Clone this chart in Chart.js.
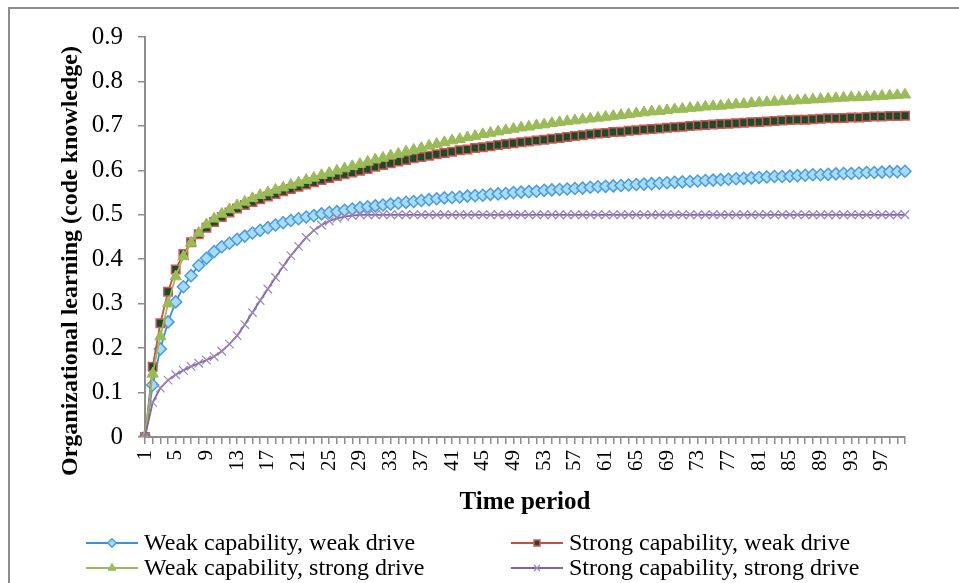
<!DOCTYPE html>
<html>
<head>
<meta charset="utf-8">
<script src="https://cdn.jsdelivr.net/npm/chart.js"></script>
<style>
  html, body { margin: 0; padding: 0; background: #fff; overflow: hidden; }
  #wrap { position: relative; width: 959px; height: 583px; overflow: hidden; }
  #frame { position: absolute; left: 8px; top: 7px; width: 1000px; height: 700px; border: 2px solid #8d8d8d; }
  #chart { position: absolute; left: 0; top: 0; }
</style>
</head>
<body>
<div id="wrap">
  <div id="frame"></div>
  <canvas id="chart" width="959" height="583"></canvas>
</div>
<script>
// time periods 1..100 (category axis)
const periods = Array.from({ length: 100 }, (_, i) => String(i + 1))
const shownPeriods = ['1', '5', '9', '13', '17', '21', '25', '29', '33', '37', '41', '45', '49',
  '53', '57', '61', '65', '69', '73', '77', '81', '85', '89', '93', '97']
const yTicks = [0, 0.1, 0.2, 0.3, 0.4, 0.5, 0.6, 0.7, 0.8, 0.9]

const weakCapWeakDrive = [
  0, 0.117, 0.198, 0.259, 0.304, 0.338, 0.363, 0.386, 0.402, 0.417,
  0.428, 0.436, 0.445, 0.452, 0.459, 0.465, 0.471, 0.477, 0.482, 0.487,
  0.491, 0.495, 0.498, 0.502, 0.505, 0.507, 0.51, 0.513, 0.516, 0.518,
  0.52, 0.522, 0.524, 0.526, 0.528, 0.53, 0.532, 0.534, 0.536, 0.538,
  0.539, 0.54, 0.542, 0.543, 0.544, 0.546, 0.547, 0.548, 0.55, 0.551,
  0.552, 0.553, 0.555, 0.556, 0.557, 0.558, 0.559, 0.56, 0.562, 0.563,
  0.564, 0.565, 0.566, 0.567, 0.568, 0.569, 0.57, 0.571, 0.572, 0.573,
  0.574, 0.575, 0.576, 0.577, 0.578, 0.579, 0.58, 0.581, 0.582, 0.583,
  0.584, 0.585, 0.586, 0.586, 0.587, 0.588, 0.589, 0.59, 0.59, 0.591,
  0.592, 0.593, 0.593, 0.594, 0.595, 0.595, 0.596, 0.597, 0.597, 0.598
]
const strongCapWeakDrive = [
  0, 0.158, 0.256, 0.327, 0.377, 0.412, 0.438, 0.456, 0.471, 0.484,
  0.495, 0.505, 0.514, 0.522, 0.529, 0.535, 0.541, 0.547, 0.553, 0.558,
  0.563, 0.568, 0.573, 0.578, 0.583, 0.587, 0.591, 0.595, 0.599, 0.603,
  0.608, 0.612, 0.616, 0.62, 0.623, 0.627, 0.63, 0.633, 0.636, 0.639,
  0.642, 0.645, 0.647, 0.65, 0.652, 0.654, 0.657, 0.659, 0.661, 0.663,
  0.665, 0.667, 0.669, 0.671, 0.673, 0.675, 0.677, 0.679, 0.681, 0.683,
  0.684, 0.686, 0.687, 0.689, 0.69, 0.692, 0.693, 0.694, 0.696, 0.697,
  0.698, 0.7, 0.701, 0.702, 0.703, 0.704, 0.705, 0.706, 0.707, 0.708,
  0.709, 0.71, 0.711, 0.712, 0.713, 0.714, 0.714, 0.715, 0.716, 0.717,
  0.717, 0.718, 0.719, 0.719, 0.72, 0.721, 0.721, 0.722, 0.722, 0.723
]
const weakCapStrongDrive = [
  0, 0.142, 0.226, 0.3, 0.361, 0.406, 0.437, 0.459, 0.478, 0.491,
  0.502, 0.512, 0.521, 0.529, 0.537, 0.544, 0.55, 0.556, 0.561, 0.567,
  0.572, 0.578, 0.583, 0.589, 0.594, 0.599, 0.604, 0.609, 0.614, 0.619,
  0.624, 0.628, 0.633, 0.637, 0.642, 0.646, 0.65, 0.655, 0.659, 0.663,
  0.667, 0.67, 0.674, 0.677, 0.681, 0.684, 0.687, 0.69, 0.693, 0.696,
  0.698, 0.701, 0.703, 0.706, 0.708, 0.71, 0.712, 0.714, 0.716, 0.718,
  0.72, 0.722, 0.724, 0.726, 0.728, 0.73, 0.732, 0.733, 0.735, 0.737,
  0.738, 0.74, 0.741, 0.743, 0.744, 0.745, 0.747, 0.748, 0.749, 0.751,
  0.752, 0.753, 0.754, 0.755, 0.756, 0.757, 0.758, 0.759, 0.76, 0.761,
  0.762, 0.763, 0.764, 0.764, 0.765, 0.766, 0.767, 0.768, 0.769, 0.77
]
const strongCapStrongDrive = [
  0, 0.078, 0.11, 0.128, 0.14, 0.15, 0.159, 0.166, 0.173, 0.181,
  0.193, 0.209, 0.228, 0.253, 0.28, 0.307, 0.333, 0.359, 0.384, 0.408,
  0.429, 0.449, 0.465, 0.477, 0.486, 0.492, 0.496, 0.498, 0.5, 0.5,
  0.5, 0.5, 0.5, 0.5, 0.5, 0.5, 0.5, 0.5, 0.5, 0.5,
  0.5, 0.5, 0.5, 0.5, 0.5, 0.5, 0.5, 0.5, 0.5, 0.5,
  0.5, 0.5, 0.5, 0.5, 0.5, 0.5, 0.5, 0.5, 0.5, 0.5,
  0.5, 0.5, 0.5, 0.5, 0.5, 0.5, 0.5, 0.5, 0.5, 0.5,
  0.5, 0.5, 0.5, 0.5, 0.5, 0.5, 0.5, 0.5, 0.5, 0.5,
  0.5, 0.5, 0.5, 0.5, 0.5, 0.5, 0.5, 0.5, 0.5, 0.5,
  0.5, 0.5, 0.5, 0.5, 0.5, 0.5, 0.5, 0.5, 0.5, 0.5
]

const serif = '"Liberation Serif", "Times New Roman", serif'
const axisGray = '#8d8d8d'

// two-column legend like the Excel one, drawn from the dataset styles
const legendPlugin = {
  id: 'gridLegend',
  afterDraw(chart) {
    const ctx = chart.ctx
    const cols = [86, 511]
    const rows = [543, 568]
    chart.data.datasets.forEach((ds, i) => {
      const x0 = cols[i % 2]
      const y = rows[Math.floor(i / 2)]
      ctx.save()
      ctx.strokeStyle = ds.borderColor
      ctx.lineWidth = ds.borderWidth
      ctx.beginPath()
      ctx.moveTo(x0, y)
      ctx.lineTo(x0 + 52, y)
      ctx.stroke()
      ctx.fillStyle = ds.pointBackgroundColor
      ctx.strokeStyle = ds.pointBorderColor
      ctx.lineWidth = ds.pointBorderWidth
      Chart.helpers.drawPoint(ctx, {
        pointStyle: ds.pointStyle,
        radius: ds.pointRadius * 0.7,
        borderWidth: ds.pointBorderWidth,
        rotation: 0
      }, x0 + 26, y)
      ctx.fillStyle = '#000'
      ctx.font = '24px ' + serif
      ctx.textBaseline = 'middle'
      ctx.textAlign = 'left'
      ctx.fillText(ds.label, x0 + 58, y + 1)
      ctx.restore()
    })
  }
}

new Chart(document.getElementById('chart'), {
  type: 'line',
  data: {
    labels: periods,
    datasets: [
      {
        label: 'Weak capability, weak drive',
        data: weakCapWeakDrive,
        borderColor: '#3d8fd6',
        borderWidth: 1.8,
        pointStyle: 'rectRot',
        pointRadius: 6,
        pointBackgroundColor: '#a8dcf4',
        pointBorderColor: '#4a9be0',
        pointBorderWidth: 1.5,
        order: 4
      },
      {
        label: 'Strong capability, weak drive',
        data: strongCapWeakDrive,
        borderColor: '#c0504d',
        borderWidth: 1.8,
        pointStyle: 'rect',
        pointRadius: 6,
        pointBackgroundColor: '#1d4a2a',
        pointBorderColor: '#d05a57',
        pointBorderWidth: 1.5,
        order: 3
      },
      {
        label: 'Weak capability, strong drive',
        data: weakCapStrongDrive,
        borderColor: '#9bbb59',
        borderWidth: 1.8,
        pointStyle: 'triangle',
        pointRadius: 6.5,
        pointBackgroundColor: '#9bbb59',
        pointBorderColor: '#9bbb59',
        pointBorderWidth: 1,
        order: 2
      },
      {
        label: 'Strong capability, strong drive',
        data: strongCapStrongDrive,
        borderColor: '#8064a2',
        borderWidth: 1.8,
        pointStyle: 'crossRot',
        pointRadius: 6,
        pointBackgroundColor: '#9a86bb',
        pointBorderColor: '#9a86bb',
        pointBorderWidth: 1.2,
        order: 1
      }
    ]
  },
  options: {
    responsive: false,
    animation: false,
    layout: { padding: { left: 0, top: 37, right: 54, bottom: 64 } },
    elements: { line: { tension: 0 } },
    plugins: {
      legend: { display: false },
      tooltip: { enabled: false }
    },
    scales: {
      x: {
        type: 'category',
        offset: false,
        grid: {
          display: true,
          drawOnChartArea: false,
          drawTicks: true,
          tickLength: 7,
          color: axisGray,
          lineWidth: 1.5
        },
        border: { display: true, color: axisGray, width: 2 },
        ticks: {
          autoSkip: false,
          minRotation: 90,
          maxRotation: 90,
          padding: 6,
          color: '#000',
          font: { family: serif, size: 21 },
          callback(value, index) {
            const lab = periods[index]
            return shownPeriods.includes(lab) ? lab : ''
          }
        },
        title: {
          display: true,
          text: 'Time period',
          color: '#000',
          font: { family: serif, size: 25, weight: 'bold' },
          padding: { top: 0, bottom: 1 }
        },
        afterFit(scale) { scale.height = 82 }
      },
      y: {
        min: 0,
        max: 0.9,
        grid: {
          display: true,
          drawOnChartArea: false,
          drawTicks: true,
          tickLength: 7,
          color: axisGray,
          lineWidth: 1.5
        },
        border: { display: true, color: axisGray, width: 2 },
        afterBuildTicks(scale) {
          scale.ticks = yTicks.map(v => ({ value: v }))
        },
        ticks: {
          padding: 15,
          color: '#000',
          font: { family: serif, size: 25 },
          callback: v => (v === 0 ? '0' : v.toFixed(1))
        },
        title: {
          display: true,
          text: 'Organizational learning (code knowledge)\u00a0\u00a0\u00a0\u00a0\u00a0\u00a0\u00a0\u00a0',
          color: '#000',
          font: { family: serif, size: 24, weight: 'bold' },
          padding: { top: 56, bottom: 0 }
        },
        afterFit(scale) { scale.width = 145 }
      }
    }
  },
  plugins: [legendPlugin]
})
</script>
</body>
</html>
